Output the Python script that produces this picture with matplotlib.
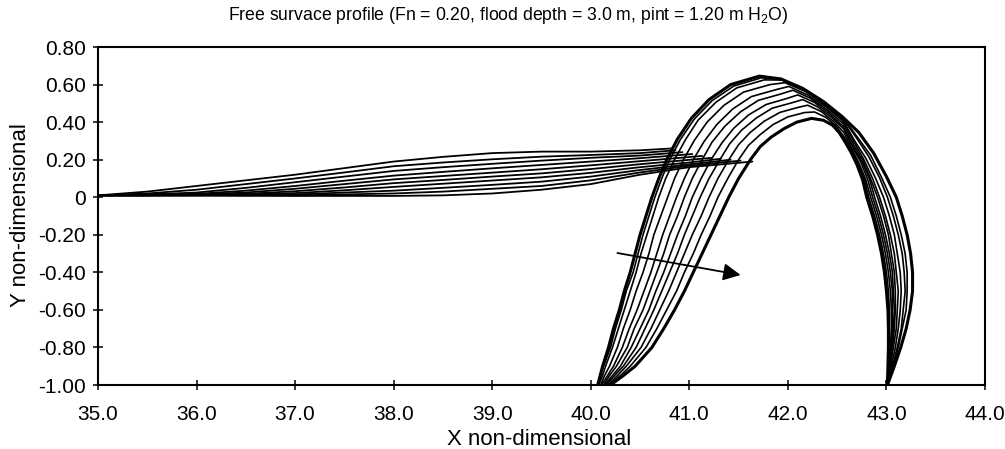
import matplotlib
matplotlib.use("Agg")
import matplotlib.pyplot as plt

plt.rcParams["font.family"] = ["Liberation Sans", "DejaVu Sans"]
plt.rcParams["mathtext.default"] = "regular"

# ---- surface near the free level (one row per profile) ----
H_X = [35.0, 35.5, 36.0, 36.5, 37.0, 37.5, 38.0, 38.5, 39.0, 39.5, 40.0, 40.5]
H_Y = [
    [0.010, 0.030, 0.060, 0.090, 0.120, 0.155, 0.190, 0.215, 0.235, 0.243, 0.243, 0.250],
    [0.010, 0.020, 0.040, 0.070, 0.100, 0.132, 0.165, 0.185, 0.202, 0.216, 0.225, 0.235],
    [0.010, 0.015, 0.025, 0.050, 0.080, 0.110, 0.140, 0.160, 0.178, 0.195, 0.210, 0.222],
    [0.010, 0.012, 0.018, 0.035, 0.060, 0.088, 0.115, 0.135, 0.154, 0.172, 0.190, 0.208],
    [0.010, 0.010, 0.015, 0.025, 0.045, 0.070, 0.095, 0.113, 0.131, 0.149, 0.170, 0.192],
    [0.010, 0.010, 0.012, 0.018, 0.032, 0.052, 0.075, 0.092, 0.110, 0.127, 0.150, 0.176],
    [0.010, 0.010, 0.010, 0.014, 0.022, 0.037, 0.055, 0.072, 0.089, 0.106, 0.130, 0.160],
    [0.010, 0.010, 0.010, 0.010, 0.015, 0.025, 0.035, 0.050, 0.066, 0.083, 0.110, 0.145],
    [0.010, 0.010, 0.010, 0.010, 0.010, 0.015, 0.020, 0.030, 0.045, 0.060, 0.090, 0.132],
    [0.010, 0.010, 0.010, 0.008, 0.007, 0.007, 0.007, 0.010, 0.020, 0.040, 0.070, 0.120],
]
H_TAIL_X = [[40.83], [40.86], [40.93], [41.03], [41.13], [41.23],
            [41.0, 41.32], [41.0, 41.42], [41.0, 41.52], [41.0, 41.64]]
H_TAIL_Y = [[0.26], [0.25], [0.24], [0.23], [0.22], [0.21],
            [0.185, 0.205], [0.175, 0.20], [0.168, 0.195], [0.16, 0.19]]

# ---- overturning part: left leg, crest, right leg (one row per profile) ----
LEG_Y = [-1.0, -0.95, -0.9, -0.8, -0.7, -0.6, -0.5, -0.4, -0.3, -0.2, -0.1, 0.0, 0.1]
LEFT_X = [
    [40.07, 40.095, 40.12, 40.18, 40.23, 40.29, 40.34, 40.40, 40.45, 40.50, 40.56, 40.62, 40.69],
    [40.08, 40.10, 40.13, 40.20, 40.25, 40.31, 40.36, 40.43, 40.48, 40.53, 40.59, 40.65, 40.72],
    [40.08, 40.12, 40.15, 40.22, 40.28, 40.34, 40.40, 40.46, 40.51, 40.57, 40.63, 40.69, 40.76],
    [40.10, 40.14, 40.19, 40.27, 40.33, 40.40, 40.46, 40.53, 40.59, 40.64, 40.71, 40.78, 40.85],
    [40.11, 40.17, 40.23, 40.32, 40.39, 40.47, 40.54, 40.61, 40.67, 40.73, 40.80, 40.87, 40.95],
    [40.13, 40.19, 40.26, 40.37, 40.44, 40.53, 40.60, 40.67, 40.74, 40.80, 40.88, 40.95, 41.03],
    [40.14, 40.22, 40.30, 40.41, 40.50, 40.59, 40.66, 40.74, 40.81, 40.88, 40.96, 41.03, 41.12],
    [40.15, 40.24, 40.33, 40.46, 40.55, 40.64, 40.72, 40.80, 40.88, 40.95, 41.03, 41.11, 41.20],
    [40.17, 40.27, 40.36, 40.51, 40.61, 40.70, 40.79, 40.87, 40.95, 41.03, 41.12, 41.20, 41.29],
    [40.18, 40.30, 40.40, 40.56, 40.67, 40.77, 40.87, 40.95, 41.04, 41.12, 41.21, 41.29, 41.39],
    [40.20, 40.33, 40.45, 40.62, 40.74, 40.85, 40.95, 41.04, 41.13, 41.22, 41.31, 41.40, 41.50],
]
TOP_X = [
    [40.77, 40.88, 41.02, 41.20, 41.42, 41.71, 41.93, 42.15, 42.36, 42.55, 42.72, 42.87, 43.00],
    [40.80, 40.91, 41.05, 41.23, 41.45, 41.73, 41.93, 42.15, 42.36, 42.55, 42.70, 42.84, 42.95],
    [40.85, 40.96, 41.09, 41.27, 41.48, 41.76, 41.94, 42.16, 42.36, 42.55, 42.70, 42.82, 42.93],
    [40.94, 41.05, 41.18, 41.35, 41.55, 41.82, 41.97, 42.18, 42.37, 42.55, 42.68, 42.79, 42.89],
    [41.04, 41.15, 41.28, 41.44, 41.63, 41.88, 42.01, 42.20, 42.39, 42.56, 42.68, 42.77, 42.86],
    [41.13, 41.23, 41.36, 41.52, 41.70, 41.93, 42.05, 42.23, 42.40, 42.56, 42.67, 42.76, 42.84],
    [41.22, 41.33, 41.45, 41.60, 41.78, 41.99, 42.10, 42.27, 42.42, 42.56, 42.66, 42.75, 42.83],
    [41.31, 41.41, 41.53, 41.68, 41.84, 42.04, 42.15, 42.30, 42.44, 42.57, 42.66, 42.74, 42.81],
    [41.40, 41.50, 41.62, 41.76, 41.92, 42.10, 42.20, 42.34, 42.46, 42.57, 42.65, 42.72, 42.79],
    [41.50, 41.60, 41.72, 41.85, 42.00, 42.17, 42.27, 42.39, 42.49, 42.57, 42.65, 42.71, 42.78],
    [41.62, 41.72, 41.83, 41.96, 42.09, 42.24, 42.36, 42.45, 42.52, 42.58, 42.64, 42.70, 42.76],
]
TOP_Y = [
    [0.20, 0.310, 0.420, 0.520, 0.600, 0.645, 0.630, 0.580, 0.510, 0.430, 0.345, 0.235, 0.110],
    [0.20, 0.308, 0.416, 0.514, 0.592, 0.636, 0.628, 0.578, 0.509, 0.429, 0.324, 0.223, 0.106],
    [0.20, 0.306, 0.411, 0.506, 0.582, 0.625, 0.624, 0.575, 0.506, 0.426, 0.313, 0.217, 0.104],
    [0.20, 0.302, 0.400, 0.489, 0.560, 0.600, 0.610, 0.563, 0.495, 0.418, 0.298, 0.208, 0.101],
    [0.20, 0.297, 0.388, 0.470, 0.536, 0.573, 0.590, 0.545, 0.480, 0.406, 0.286, 0.201, 0.099],
    [0.20, 0.293, 0.378, 0.455, 0.516, 0.550, 0.570, 0.527, 0.465, 0.393, 0.277, 0.196, 0.097],
    [0.20, 0.289, 0.367, 0.438, 0.494, 0.526, 0.545, 0.505, 0.446, 0.378, 0.269, 0.191, 0.095],
    [0.20, 0.285, 0.357, 0.422, 0.474, 0.503, 0.520, 0.482, 0.427, 0.362, 0.262, 0.187, 0.094],
    [0.20, 0.280, 0.346, 0.405, 0.452, 0.478, 0.490, 0.456, 0.405, 0.344, 0.255, 0.183, 0.093],
    [0.20, 0.276, 0.334, 0.387, 0.428, 0.451, 0.454, 0.424, 0.378, 0.322, 0.248, 0.179, 0.091],
    [0.20, 0.270, 0.320, 0.365, 0.400, 0.420, 0.410, 0.385, 0.345, 0.295, 0.240, 0.175, 0.090],
]
RIGHT_Y = [0.0, -0.1, -0.2, -0.3, -0.4, -0.5, -0.6, -0.7, -0.8, -0.9, -1.0]
RIGHT_X = [
    [43.10, 43.16, 43.21, 43.245, 43.265, 43.265, 43.24, 43.20, 43.145, 43.08, 43.01],
    [43.04, 43.10, 43.15, 43.19, 43.21, 43.21, 43.20, 43.16, 43.12, 43.07, 43.01],
    [43.01, 43.07, 43.12, 43.16, 43.18, 43.19, 43.17, 43.15, 43.11, 43.06, 43.01],
    [42.97, 43.03, 43.08, 43.11, 43.14, 43.15, 43.14, 43.12, 43.09, 43.05, 43.01],
    [42.93, 42.99, 43.04, 43.08, 43.10, 43.12, 43.11, 43.10, 43.07, 43.04, 43.01],
    [42.91, 42.97, 43.02, 43.05, 43.08, 43.09, 43.09, 43.08, 43.06, 43.04, 43.01],
    [42.88, 42.94, 42.99, 43.03, 43.06, 43.07, 43.08, 43.07, 43.05, 43.03, 43.01],
    [42.86, 42.92, 42.97, 43.01, 43.04, 43.06, 43.06, 43.06, 43.05, 43.03, 43.01],
    [42.84, 42.90, 42.95, 42.99, 43.02, 43.04, 43.05, 43.05, 43.04, 43.02, 43.01],
    [42.82, 42.88, 42.93, 42.97, 43.00, 43.02, 43.03, 43.03, 43.03, 43.02, 43.01],
    [42.80, 42.86, 42.91, 42.95, 42.98, 43.00, 43.015, 43.02, 43.02, 43.015, 43.01],
]

# direction arrow (start, end)
ARROW_START = (40.27, -0.297)
ARROW_END = (41.52, -0.414)

X_TICKS = [35.0, 36.0, 37.0, 38.0, 39.0, 40.0, 41.0, 42.0, 43.0, 44.0]
Y_TICKS = [-1.0, -0.8, -0.6, -0.4, -0.2, 0.0, 0.2, 0.4, 0.6, 0.8]
Y_TICK_LABELS = ["-1.00", "-0.80", "-0.60", "-0.40", "-0.20", "0",
                 "0.20", "0.40", "0.60", "0.80"]

fig = plt.figure(figsize=(10.05, 4.49), dpi=100)
ax = fig.add_axes([0.0975, 0.1425, 0.8826, 0.7528])

for k in range(len(H_Y)):
    ax.plot(H_X + H_TAIL_X[k], H_Y[k] + H_TAIL_Y[k], color="black", lw=1.3,
            solid_capstyle="round")

n = len(LEFT_X)
for k in range(n):
    xs = LEFT_X[k] + TOP_X[k] + RIGHT_X[k]
    ys = LEG_Y + TOP_Y[k] + RIGHT_Y
    lw = 2.2 if k in (0, n - 1) else 1.2
    ax.plot(xs, ys, color="black", lw=lw, solid_joinstyle="round")

ax.annotate("", xy=ARROW_END, xytext=ARROW_START,
            arrowprops=dict(arrowstyle="-|>", color="black", lw=1.3,
                            mutation_scale=26, shrinkA=0, shrinkB=0))

ax.set_xlim(35.0, 44.0)
ax.set_ylim(-1.0, 0.8)
ax.set_xticks(X_TICKS)
ax.set_xticklabels([f"{v:.1f}" for v in X_TICKS])
ax.set_yticks(Y_TICKS)
ax.set_yticklabels(Y_TICK_LABELS)
ax.tick_params(direction="inout", length=7, width=1.1,
               top=False, right=False, labelsize=15)
ax.tick_params(axis="x", pad=11)
ax.tick_params(axis="y", pad=5)
for s in ax.spines.values():
    s.set_linewidth(1.5)

fig.text(0.536, 0.022, "X non-dimensional", fontsize=16, ha="center", va="center")
fig.text(0.02, 0.521, "Y non-dimensional", fontsize=16, ha="center", va="center",
         rotation=90)
fig.text(0.506, 0.966, "Free survace profile (Fn = 0.20, flood depth = 3.0 m, "
         "pint = 1.20 m H$_2$O)", fontsize=12.7, ha="center", va="center")

fig.savefig("out.png", dpi=100)
